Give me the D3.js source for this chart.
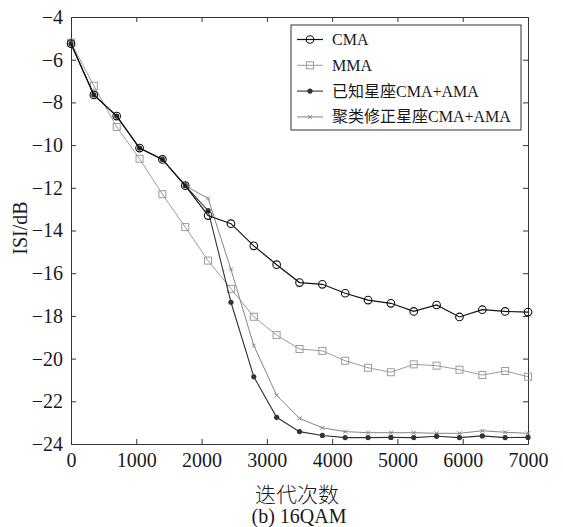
<!DOCTYPE html>
<html>
<head>
<meta charset="utf-8">
<script src="https://cdnjs.cloudflare.com/ajax/libs/d3/7.8.5/d3.min.js"></script>
<style>
  body { margin: 0; background: #fff; }
  text { font-family: "Liberation Serif", "Times New Roman", "Noto Sans CJK SC", serif; fill: #1a1a1a; }
</style>
</head>
<body>
<div id="chart"></div>
<script>
var iters = [0, 350, 700, 1050, 1400, 1750, 2100, 2450, 2800, 3150, 3500,
             3850, 4200, 4550, 4900, 5250, 5600, 5950, 6300, 6650, 7000];
var cma = [-5.25, -7.65, -8.64, -10.14, -10.67, -11.9, -13.3, -13.68, -14.72, -15.6, -16.44,
           -16.52, -16.94, -17.26, -17.41, -17.79, -17.49, -18.05, -17.71, -17.79, -17.82];
var mma = [-5.2, -7.22, -9.15, -10.64, -12.3, -13.84, -15.41, -16.73, -18.04, -18.9, -19.55,
           -19.64, -20.1, -20.43, -20.64, -20.27, -20.33, -20.52, -20.77, -20.58, -20.85];
var known = [-5.25, -7.65, -8.64, -10.14, -10.67, -11.9, -13.07, -17.36, -20.85, -22.75, -23.42,
             -23.6, -23.7, -23.7, -23.69, -23.7, -23.64, -23.7, -23.62, -23.7, -23.69];
var cluster = [-5.25, -7.65, -8.64, -10.14, -10.67, -11.9, -12.5, -15.82, -19.39, -21.72, -22.8,
               -23.24, -23.42, -23.47, -23.47, -23.47, -23.5, -23.5, -23.38, -23.45, -23.5];
var names = ["CMA", "MMA", "已知星座CMA+AMA", "聚类修正星座CMA+AMA"];
var xTicks = [0, 1000, 2000, 3000, 4000, 5000, 6000, 7000];
var yTicks = [-24, -22, -20, -18, -16, -14, -12, -10, -8, -6, -4];

var W = 563, H = 527;
var pLeft = 71, pRight = 528, pTop = 17, pBottom = 444;

var svg = d3.select("#chart").append("svg")
    .attr("width", W).attr("height", H);

var x = d3.scaleLinear().domain([0, 7000]).range([pLeft, pRight]);
var y = d3.scaleLinear().domain([-24, -4]).range([pBottom, pTop]);

// axes, ticks pointing inward like matlab
function styleAxis(g) {
  g.selectAll("path").attr("stroke", "#333");
  g.selectAll("line").attr("stroke", "#333");
  g.selectAll("text").attr("font-size", "20px").attr("fill", "#1a1a1a")
    .attr("font-family", "Liberation Serif, Times New Roman, serif");
}
svg.append("g").attr("transform", "translate(0," + pBottom + ")")
  .call(d3.axisBottom(x).tickValues(xTicks).tickFormat(d3.format("d"))
    .tickSizeInner(-5).tickSizeOuter(0).tickPadding(9))
  .call(styleAxis);
svg.append("g").attr("transform", "translate(0," + pTop + ")")
  .call(d3.axisTop(x).tickValues(xTicks).tickSizeInner(-5).tickSizeOuter(0).tickFormat(""))
  .call(styleAxis);
svg.append("g").attr("transform", "translate(" + pLeft + ",0)")
  .call(d3.axisLeft(y).tickValues(yTicks).tickFormat(d3.format("d"))
    .tickSizeInner(-5).tickSizeOuter(0).tickPadding(8))
  .call(styleAxis);
svg.append("g").attr("transform", "translate(" + pRight + ",0)")
  .call(d3.axisRight(y).tickValues(yTicks).tickSizeInner(-5).tickSizeOuter(0).tickFormat(""))
  .call(styleAxis);

var series = [
  { vals: mma, color: "#9c9c9c", width: 1, mark: "square" },
  { vals: cluster, color: "#858585", width: 1, mark: "x" },
  { vals: known, color: "#333333", width: 1.1, mark: "dot" },
  { vals: cma, color: "#111111", width: 1.2, mark: "circle" }
];
var legendOrder = [3, 0, 2, 1];

var line = d3.line().x(function(d) { return x(d[0]); }).y(function(d) { return y(d[1]); });

function drawMark(g, s, px, py) {
  if (s.mark === "square") {
    g.append("rect").attr("x", px - 3.5).attr("y", py - 3.5).attr("width", 7).attr("height", 7)
      .attr("fill", "none").attr("stroke", s.color).attr("stroke-width", 1);
  } else if (s.mark === "x") {
    g.append("path").attr("d", "M" + (px - 2) + "," + (py - 2) + "L" + (px + 2) + "," + (py + 2) +
      "M" + (px - 2) + "," + (py + 2) + "L" + (px + 2) + "," + (py - 2))
      .attr("stroke", s.color).attr("stroke-width", 1);
  } else if (s.mark === "dot") {
    g.append("circle").attr("cx", px).attr("cy", py).attr("r", 2.6).attr("fill", s.color);
  } else {
    g.append("circle").attr("cx", px).attr("cy", py).attr("r", 3.8)
      .attr("fill", "none").attr("stroke", s.color).attr("stroke-width", 1.1);
  }
}

series.forEach(function(s) {
  var pts = iters.map(function(t, i) { return [t, s.vals[i]]; });
  svg.append("path").datum(pts).attr("d", line)
    .attr("fill", "none").attr("stroke", s.color).attr("stroke-width", s.width);
  var g = svg.append("g");
  pts.forEach(function(p) { drawMark(g, s, x(p[0]), y(p[1])); });
});

// legend
var lg = svg.append("g");
lg.append("rect").attr("x", 291).attr("y", 25).attr("width", 230).attr("height", 105)
  .attr("fill", "#fff").attr("stroke", "#333").attr("stroke-width", 1);
legendOrder.forEach(function(si, i) {
  var s = series[si];
  var ly = 39.5 + i * 25.8;
  lg.append("line").attr("x1", 297).attr("x2", 323).attr("y1", ly).attr("y2", ly)
    .attr("stroke", s.color).attr("stroke-width", s.width);
  drawMark(lg, s, 310, ly);
  lg.append("text").attr("x", 332).attr("y", ly + 5.5).attr("font-size", "16px")
    .text(names[i]);
});

// titles
svg.append("text").attr("transform", "translate(27,228) rotate(-90)")
  .attr("text-anchor", "middle").attr("font-size", "20px").text("ISI/dB");
svg.append("text").attr("x", 297).attr("y", 502).attr("text-anchor", "middle")
  .attr("font-size", "21px").attr("font-family", "Noto Sans CJK SC").attr("font-weight", 300)
  .text("迭代次数");
svg.append("text").attr("x", 299).attr("y", 523).attr("text-anchor", "middle")
  .attr("font-size", "20px").text("(b) 16QAM");
</script>
</body>
</html>
